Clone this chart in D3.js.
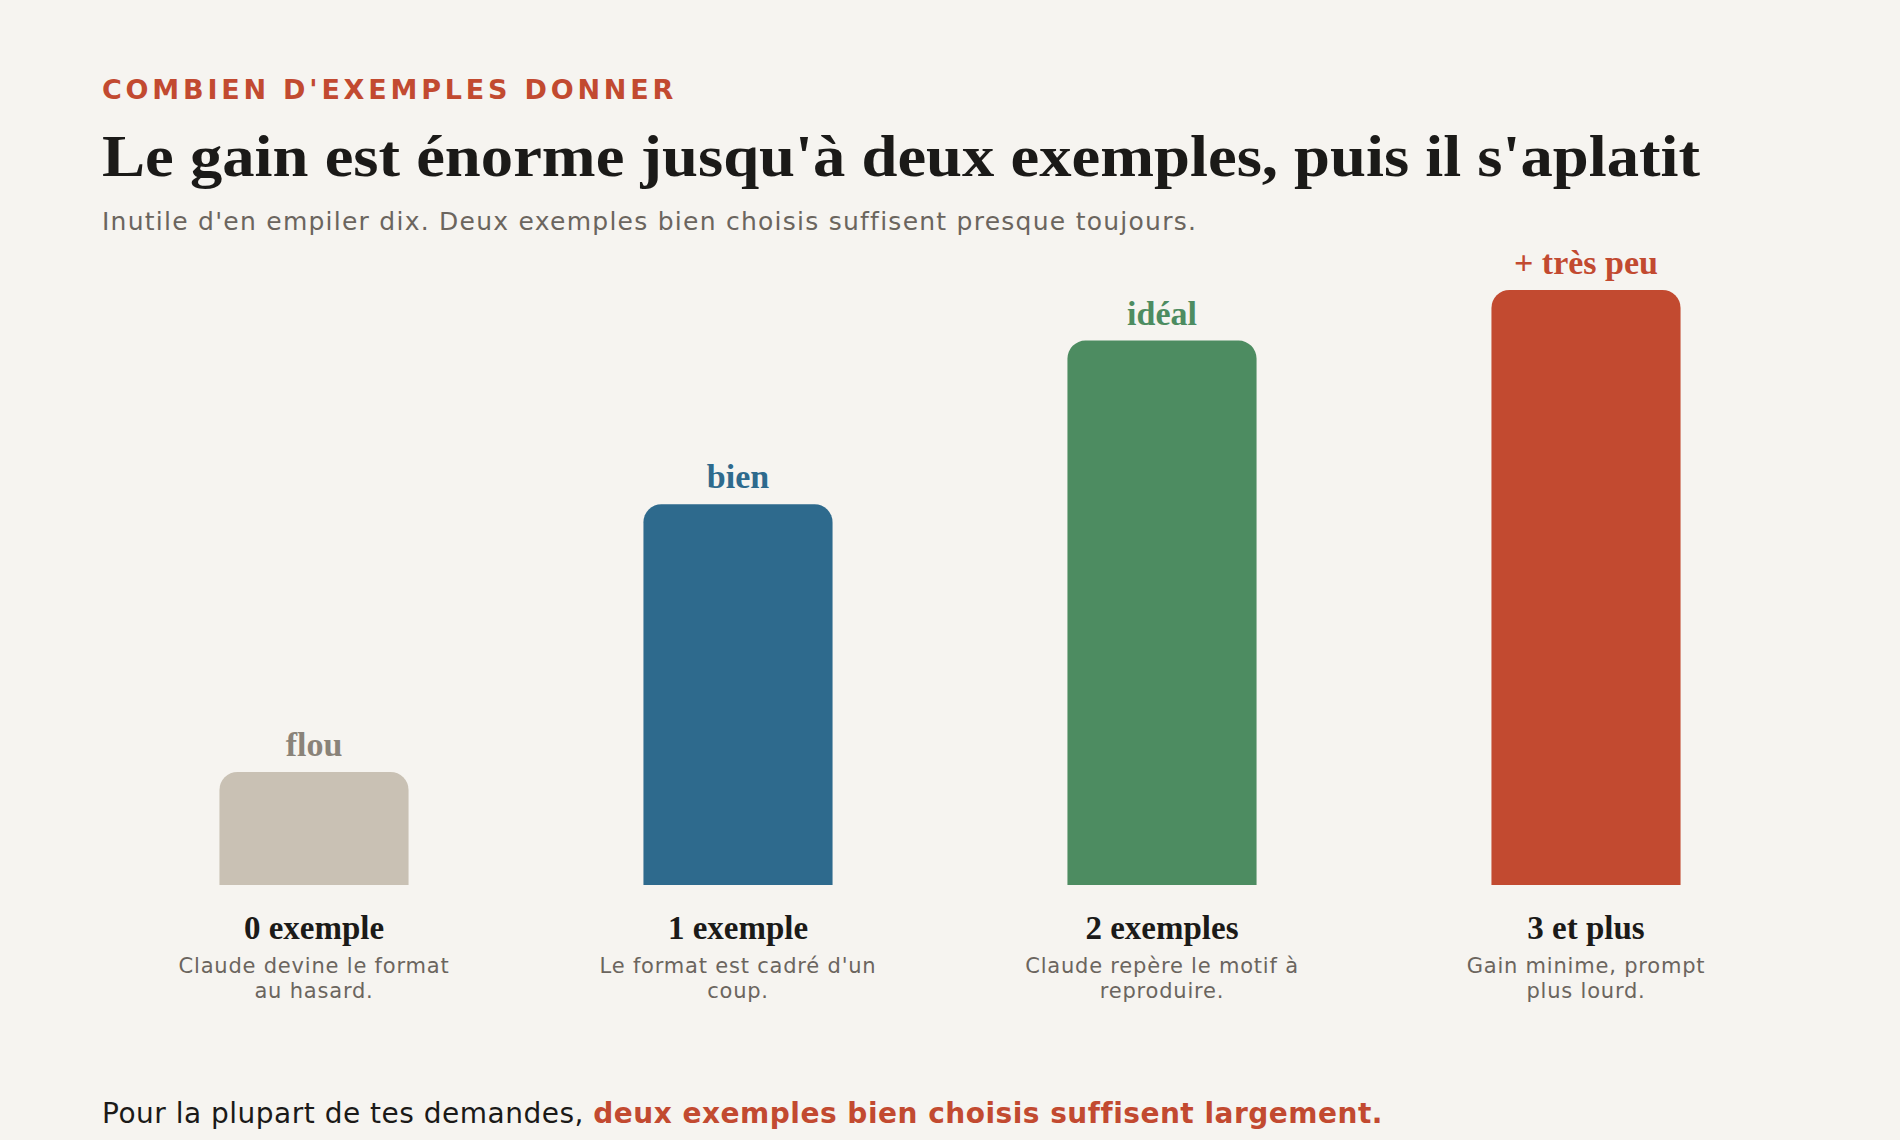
<!DOCTYPE html>
<html>
<head>
<meta charset="utf-8">
<script src="https://cdn.jsdelivr.net/npm/d3@7"></script>
<style>
  html, body { margin: 0; padding: 0; background: #f6f4f0; }
  svg { display: block; }
</style>
</head>
<body>
<svg id="chart"></svg>
<script>
// Chart data
const categories = ["0 exemple", "1 exemple", "2 exemples", "3 et plus"];
const gains = [19, 64, 91.5, 100];
const valueLabels = ["flou", "bien", "idéal", "+ très peu"];
const descriptions = [
    ["Claude devine le format", "au hasard."],
    ["Le format est cadré d'un", "coup."],
    ["Claude repère le motif à", "reproduire."],
    ["Gain minime, prompt", "plus lourd."]
];
const barColors = ["#c9c1b4", "#2e6a8d", "#4d8c61", "#c24a30"];
const labelColors = ["#8a8379", "#2e6a8d", "#4d8c61", "#c24a30"];

const width = 1900;
const height = 1140;
const serif = "'Liberation Serif', 'DejaVu Serif', serif";
const sans = "'DejaVu Sans', 'Noto Sans', sans-serif";

const svg = d3.select("#chart")
    .attr("width", width)
    .attr("height", height);

svg.append("rect")
    .attr("width", width)
    .attr("height", height)
    .attr("fill", "#f6f4f0");

// Header
svg.append("text")
    .attr("x", 102)
    .attr("y", 99)
    .attr("font-family", sans)
    .attr("font-weight", 700)
    .attr("font-size", 27)
    .attr("letter-spacing", "3.8px")
    .attr("fill", "#c24a30")
    .text("COMBIEN D'EXEMPLES DONNER");

svg.append("text")
    .attr("x", 102)
    .attr("y", 176)
    .attr("font-family", serif)
    .attr("font-weight", 700)
    .attr("font-size", 60)
    .attr("fill", "#1b1a18")
    .attr("textLength", 1598)
    .attr("lengthAdjust", "spacingAndGlyphs")
    .text("Le gain est énorme jusqu'à deux exemples, puis il s'aplatit");

svg.append("text")
    .attr("x", 102)
    .attr("y", 230)
    .attr("font-family", sans)
    .attr("font-size", 25)
    .attr("letter-spacing", "1.25px")
    .attr("fill", "#6b655e")
    .text("Inutile d'en empiler dix. Deux exemples bien choisis suffisent presque toujours.");

// Scales
const x = d3.scaleBand()
    .domain(categories)
    .range([102, 1798])
    .paddingInner(0.554)
    .paddingOuter(0.277);

const y = d3.scaleLinear()
    .domain([0, 100])
    .range([885, 290]);

const radius = 18;

function topRoundedBar(x0, y0, w, h) {
    const r = Math.min(radius, h, w / 2);
    const p = d3.path();
    p.moveTo(x0, y0 + h);
    p.lineTo(x0, y0 + r);
    p.arcTo(x0, y0, x0 + r, y0, r);
    p.lineTo(x0 + w - r, y0);
    p.arcTo(x0 + w, y0, x0 + w, y0 + r, r);
    p.lineTo(x0 + w, y0 + h);
    p.closePath();
    return p.toString();
}

const rows = categories.map((c, i) => ({
    cat: c,
    value: gains[i],
    label: valueLabels[i],
    desc: descriptions[i],
    color: barColors[i],
    labelColor: labelColors[i]
}));

const groups = svg.selectAll(".bar-group")
    .data(rows)
    .enter()
    .append("g")
    .attr("class", "bar-group");

groups.append("path")
    .attr("d", d => topRoundedBar(x(d.cat), y(d.value), x.bandwidth(), y(0) - y(d.value)))
    .attr("fill", d => d.color);

// Value labels above bars
groups.append("text")
    .attr("x", d => x(d.cat) + x.bandwidth() / 2)
    .attr("y", d => y(d.value) - 16)
    .attr("text-anchor", "middle")
    .attr("font-family", serif)
    .attr("font-weight", 700)
    .attr("font-size", 34)
    .attr("fill", d => d.labelColor)
    .text(d => d.label);

// Category labels
groups.append("text")
    .attr("x", d => x(d.cat) + x.bandwidth() / 2)
    .attr("y", 939)
    .attr("text-anchor", "middle")
    .attr("font-family", serif)
    .attr("font-weight", 700)
    .attr("font-size", 33)
    .attr("fill", "#1b1a18")
    .text(d => d.cat);

groups.each(function(d) {
    const g = d3.select(this);
    d.desc.forEach((line, j) => {
        g.append("text")
            .attr("x", x(d.cat) + x.bandwidth() / 2)
            .attr("y", 973 + j * 25)
            .attr("text-anchor", "middle")
            .attr("font-family", sans)
            .attr("font-size", 21)
            .attr("letter-spacing", "0.8px")
            .attr("fill", "#6b655e")
            .text(line);
    });
});

// Footer
const footer = svg.append("text")
    .attr("x", 102)
    .attr("y", 1123)
    .attr("font-family", sans)
    .attr("font-size", 28)
    .attr("letter-spacing", "0.5px")
    .attr("fill", "#1b1a18");

footer.append("tspan")
    .text("Pour la plupart de tes demandes, ");

footer.append("tspan")
    .attr("font-weight", 700)
    .attr("fill", "#c24a30")
    .text("deux exemples bien choisis suffisent largement.");
</script>
</body>
</html>
